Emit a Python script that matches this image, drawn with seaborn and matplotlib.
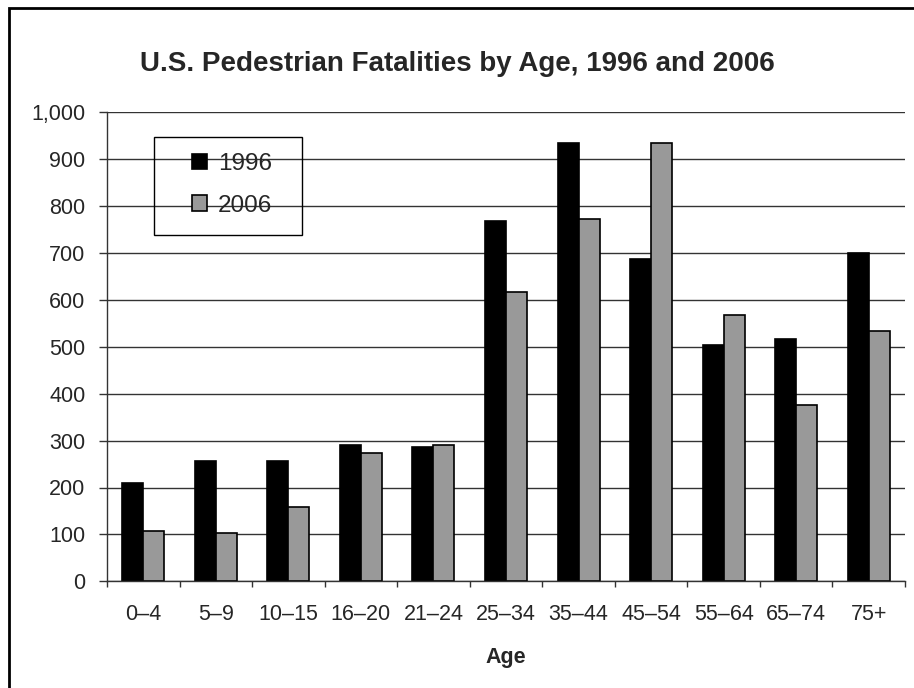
import numpy as np
import pandas as pd
import seaborn as sns
import matplotlib.pyplot as plt
from matplotlib.patches import Rectangle
from matplotlib.ticker import StrMethodFormatter

# values
ages = ["0–4", "5–9", "10–15", "16–20", "21–24", "25–34", "35–44", "45–54", "55–64", "65–74", "75+"]
fatal_1996 = [210, 256, 256, 291, 287, 769, 934, 687, 503, 517, 701]
fatal_2006 = [107, 102, 158, 273, 291, 617, 772, 934, 567, 375, 533]
years = ["1996", "2006"]
colors = {"1996": "black", "2006": "#999999"}

df = pd.DataFrame({
    "Age": ages * 2,
    "Fatalities": fatal_1996 + fatal_2006,
    "Year": [years[0]] * len(ages) + [years[1]] * len(ages),
})

sns.set_style("white")
plt.rcParams["font.family"] = ["Liberation Sans", "DejaVu Sans"]

W, H = 914, 688
fig = plt.figure(figsize=(W / 100, H / 100), dpi=100)
ax = fig.add_axes([107 / W, 1 - 581.3 / H, (905 - 107) / W, (581.3 - 112.3) / H])

sns.barplot(data=df, x="Age", y="Fatalities", hue="Year", palette=colors,
            width=0.58, edgecolor="black", linewidth=1.2, ax=ax, legend=True)

ax.set_xlim(-0.5, len(ages) - 0.5)
ax.set_ylim(0, 1000)
ax.set_yticks(np.arange(0, 1001, 100))
ax.yaxis.set_major_formatter(StrMethodFormatter("{x:,.0f}"))
ax.yaxis.grid(True, color="#333333", linewidth=1)
ax.set_axisbelow(True)

# ticks between groups, labels at group centres
ax.set_xticks(np.arange(-0.5, len(ages), 1))
ax.set_xticklabels([])
ax.set_xticks(range(len(ages)), minor=True)
ax.set_xticklabels(ages, minor=True)
ax.tick_params(axis="x", which="major", direction="out", length=4.5, width=1, color="#333333", bottom=True)
ax.tick_params(axis="x", which="minor", length=0, pad=16, labelsize=15.5)
ax.tick_params(axis="y", direction="out", length=5.5, width=1, color="#333333", left=True, pad=10, labelsize=15.5)

for s in ["top", "right"]:
    ax.spines[s].set_visible(False)
for s in ["left", "bottom"]:
    ax.spines[s].set_color("#333333")
    ax.spines[s].set_linewidth(1)

ax.set_ylabel("")
ax.set_xlabel("Age", fontsize=15.5, fontweight="bold", labelpad=16)

handles, labels = ax.get_legend_handles_labels()
ax.legend(handles, labels, loc="center", bbox_to_anchor=(232 / W, 1 - 185 / H),
          bbox_transform=fig.transFigure, frameon=False, fontsize=17.5,
          handlelength=0.6, handleheight=0.6, handletextpad=0.45, labelspacing=0.8)
fig.add_artist(Rectangle((154 / W, 1 - 235 / H), (302 - 154) / W, (235 - 137) / H,
                         transform=fig.transFigure, fill=False, edgecolor="black", linewidth=1))

fig.text(457 / W, 1 - 64 / H, "U.S. Pedestrian Fatalities by Age, 1996 and 2006",
         ha="center", va="center", fontsize=20, fontweight="bold")

# chart frame
fig.add_artist(Rectangle((9 / W, -0.05), 1.1, 1.05 - 8 / H, transform=fig.transFigure,
                         fill=False, edgecolor="black", linewidth=2, clip_on=False))

fig.savefig("out.png", dpi=100)
